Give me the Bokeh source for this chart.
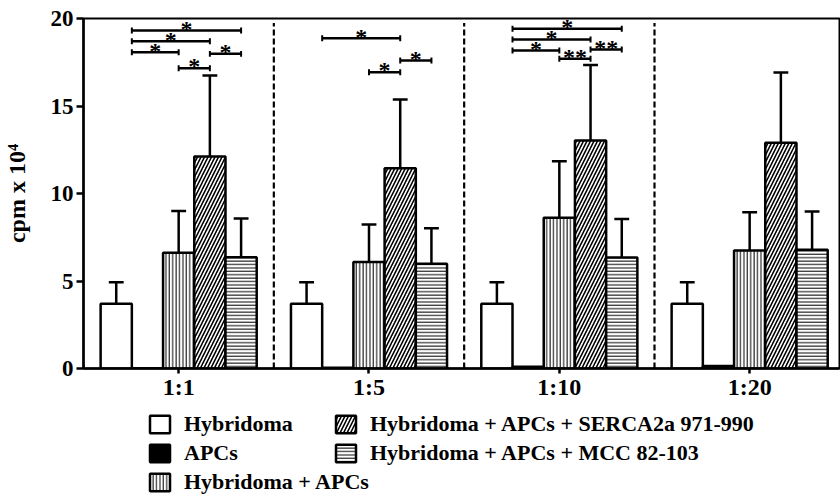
from bokeh.plotting import figure
from bokeh.layouts import column
from bokeh.models import Legend, LegendItem, Range1d, FixedTicker, ColumnDataSource
from bokeh.embed import file_html
from bokeh.resources import INLINE
from bokeh.core.properties import value

# ---- data ----
ratios = ["1:1", "1:5", "1:10", "1:20"]
series_names = ["Hybridoma", "APCs", "Hybridoma + APCs",
                "Hybridoma + APCs + SERCA2a 971-990", "Hybridoma + APCs + MCC 82-103"]

hyb_mean = [3.7, 3.7, 3.7, 3.7]
hyb_err = [1.23, 1.23, 1.23, 1.23]
apc_mean = [0.02, 0.05, 0.1, 0.15]
apc_err = [0.0, 0.0, 0.0, 0.0]
hapc_mean = [6.61, 6.08, 8.61, 6.74]
hapc_err = [2.39, 2.15, 3.24, 2.19]
serca_mean = [12.11, 11.45, 13.03, 12.9]
serca_err = [4.63, 3.92, 4.32, 4.01]
mcc_mean = [6.36, 5.98, 6.34, 6.78]
mcc_err = [2.21, 2.04, 2.21, 2.19]

# significance brackets: group index, from bar slot, to bar slot, height, label
br_group = [0, 0, 0, 0, 0, 1, 1, 1, 2, 2, 2, 2, 2]
br_from = [-1.5, -1.5, -1.5, 1, 0, -1.5, 1, 0, -1.5, -1.5, -1.5, 1, 0]
br_to = [2, 1, 0, 2, 1, 1, 2, 1, 2, 1, 0, 2, 1]
br_y = [19.31, 18.7, 18.07, 17.98, 17.16, 18.87, 17.6, 16.93, 19.41, 18.8, 18.17, 18.23, 17.7]
br_label = ["*", "*", "*", "*", "*", "*", "*", "*", "*", "*", "*", "**", "**"]

FONT = "Liberation Serif"
BAR_W = 0.164
CAP = 0.039
LW = 2.5

p = figure(width=840, height=408, output_backend="svg", toolbar_location=None,
           x_range=Range1d(-0.5, 3.472), y_range=Range1d(0, 20),
           min_border_left=82, min_border_right=1, min_border_top=18, min_border_bottom=40)
p.grid.visible = False
p.outline_line_color = "black"
p.outline_line_width = 2
p.background_fill_color = "white"

means = [hyb_mean, apc_mean, hapc_mean, serca_mean, mcc_mean]
errs = [hyb_err, apc_err, hapc_err, serca_err, mcc_err]
styles = [
    dict(fill_color="white"),
    dict(fill_color="black"),
    dict(fill_color="white", hatch_pattern="vertical_line", hatch_scale=3.4, hatch_weight=1.0),
    dict(fill_color="white", hatch_pattern="right_diagonal_line", hatch_scale=7, hatch_weight=1.6),
    dict(fill_color="white", hatch_pattern="horizontal_line", hatch_scale=3.4, hatch_weight=1.0),
]

for k, (m, e, st) in enumerate(zip(means, errs, styles)):
    xs = [g + (k - 2) * BAR_W for g in range(len(ratios))]
    src = ColumnDataSource(dict(x=xs, top=m, up=[a + b for a, b in zip(m, e)],
                                x0=[x - CAP for x in xs], x1=[x + CAP for x in xs]))
    p.vbar(x="x", top="top", bottom=0, width=BAR_W, source=src,
           line_color="black", line_width=LW, hatch_color="black", **st)
    if any(v > 0 for v in e):
        p.segment(x0="x", y0="top", x1="x", y1="up", source=src, line_color="black", line_width=LW)
        p.segment(x0="x0", y0="up", x1="x1", y1="up", source=src, line_color="black", line_width=LW)

# group dividers
p.segment(x0=[0.5, 1.5, 2.5], y0=[0, 0, 0], x1=[0.5, 1.5, 2.5], y1=[19.75] * 3,
          line_color="black", line_width=2.2, line_dash="6 3")

# brackets
bx0 = [g + a * BAR_W for g, a in zip(br_group, br_from)]
bx1 = [g + b * BAR_W for g, b in zip(br_group, br_to)]
tick_h = 0.17
p.segment(x0=bx0, y0=br_y, x1=bx1, y1=br_y, line_color="black", line_width=LW)
p.segment(x0=bx0 + bx1, y0=[y - tick_h for y in br_y] * 2, x1=bx0 + bx1,
          y1=[y + tick_h for y in br_y] * 2, line_color="black", line_width=2)
p.text(x=[(a + b) / 2 for a, b in zip(bx0, bx1)], y=[y + 0.1 for y in br_y], text=br_label,
       text_font=value(FONT), text_font_style="bold", text_font_size="24px",
       text_align="center", text_baseline="alphabetic", text_color="black")

# axes
p.yaxis.ticker = FixedTicker(ticks=[0, 5, 10, 15, 20])
p.xaxis.ticker = FixedTicker(ticks=list(range(len(ratios))))
p.xaxis.major_label_overrides = {i: r for i, r in enumerate(ratios)}
for ax in (p.xaxis, p.yaxis):
    ax.axis_line_width = 2.5
    ax.axis_line_color = "black"
    ax.major_tick_line_width = 2.5
    ax.major_tick_line_color = "black"
    ax.minor_tick_line_color = None
    ax.major_tick_in = 0
    ax.major_label_text_font = FONT
    ax.major_label_text_font_style = "bold"
    ax.major_label_text_color = "black"
p.yaxis.major_label_text_font_size = "23px"
p.xaxis.major_label_text_font_size = "24px"
p.yaxis.major_tick_out = 7
p.xaxis.major_tick_out = 5
p.yaxis.major_label_standoff = 3
p.xaxis.major_label_standoff = 0
p.yaxis.axis_label = "cpm x 10\u2074"
p.yaxis.axis_label_text_font = FONT
p.yaxis.axis_label_text_font_style = "bold"
p.yaxis.axis_label_text_font_size = "24px"
p.yaxis.axis_label_text_color = "black"
p.yaxis.axis_label_standoff = 18

# ---- legend panel (frame aligned with the plot above) ----
q = figure(width=840, height=90, output_backend="svg", toolbar_location=None,
           x_range=Range1d(0, 1), y_range=Range1d(0, 1),
           x_axis_location=None, y_axis_location=None,
           min_border_left=82, min_border_right=1, min_border_top=0, min_border_bottom=0)
q.grid.visible = False
q.outline_line_color = None

# hidden sample renderers, used only to draw the legend swatches
legend_renderers = []
for st in styles:
    r = q.vbar(x=[0.5], top=[0.6], bottom=0.4, width=0.01, line_color="black", line_width=LW,
               hatch_color="black", **st)
    r.visible = False
    legend_renderers.append(r)

def make_legend(idx, loc):
    return Legend(items=[LegendItem(label=series_names[i], renderers=[legend_renderers[i]]) for i in idx],
                  location=loc, orientation="vertical", padding=0, margin=0, spacing=3,
                  glyph_width=25, glyph_height=22, label_standoff=12,
                  label_text_font=FONT, label_text_font_style="bold", label_text_font_size="22px",
                  label_text_color="black", border_line_alpha=0, background_fill_alpha=0,
                  inactive_fill_alpha=0)

q.add_layout(make_legend([0, 1, 2], (64, 3)), "center")
q.add_layout(make_legend([3, 4], (250, 32)), "center")

open("out.html", "w").write(file_html(column(p, q), INLINE))
